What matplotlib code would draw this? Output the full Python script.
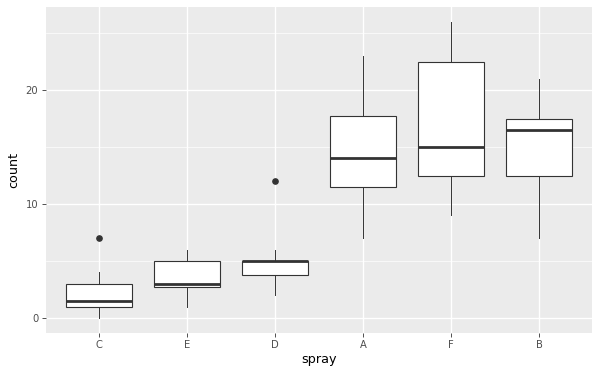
import numpy as np
import matplotlib
matplotlib.use("Agg")
import matplotlib.pyplot as plt

# InsectSprays counts, ordered by median
sprays = ["C", "E", "D", "A", "F", "B"]
count_c = [0, 1, 7, 2, 3, 1, 2, 1, 3, 0, 1, 4]
count_e = [3, 5, 3, 5, 3, 6, 1, 1, 3, 2, 6, 4]
count_d = [3, 5, 12, 6, 4, 3, 5, 5, 5, 5, 2, 4]
count_a = [10, 7, 20, 14, 14, 12, 10, 23, 17, 20, 14, 13]
count_f = [11, 9, 15, 22, 15, 16, 13, 10, 26, 26, 24, 13]
count_b = [11, 17, 21, 11, 16, 14, 17, 17, 19, 21, 7, 13]
counts = [count_c, count_e, count_d, count_a, count_f, count_b]

fig = plt.figure(figsize=(6, 3.75), dpi=100)
ax = fig.add_axes([46 / 600, 42.3 / 375, 546 / 600, 325.7 / 375])
ax.set_facecolor("#EBEBEB")

# grid lines
for y in [5, 15, 25]:
    ax.axhline(y, color="white", lw=0.5, zorder=0)
for y in [0, 10, 20]:
    ax.axhline(y, color="white", lw=1.0, zorder=0)
for x in range(1, len(sprays) + 1):
    ax.axvline(x, color="white", lw=1.0, zorder=0)

ax.boxplot(counts, positions=range(1, len(sprays) + 1), widths=0.75,
           patch_artist=True, whis=1.5,
           boxprops=dict(facecolor="white", edgecolor="#333333", lw=0.8),
           medianprops=dict(color="#333333", lw=2.0),
           whiskerprops=dict(color="#333333", lw=0.7),
           capprops=dict(lw=0),
           flierprops=dict(marker="o", markerfacecolor="#333333",
                           markeredgecolor="#333333", markersize=3.8))

ax.set_xlim(0.4, 6.6)
ax.set_ylim(-1.3, 27.3)
ax.set_xticks(range(1, len(sprays) + 1))
ax.set_xticklabels(sprays)
ax.set_yticks([0, 10, 20])
ax.tick_params(axis="both", colors="#333333", labelcolor="#4D4D4D",
               labelsize=7.2, length=3, width=0.6, pad=2.5)
for s in ax.spines.values():
    s.set_visible(False)
ax.set_xlabel("spray", fontsize=9.2, labelpad=2)
ax.set_ylabel("count", fontsize=9.2, labelpad=4)

fig.savefig("out.png", dpi=100)
